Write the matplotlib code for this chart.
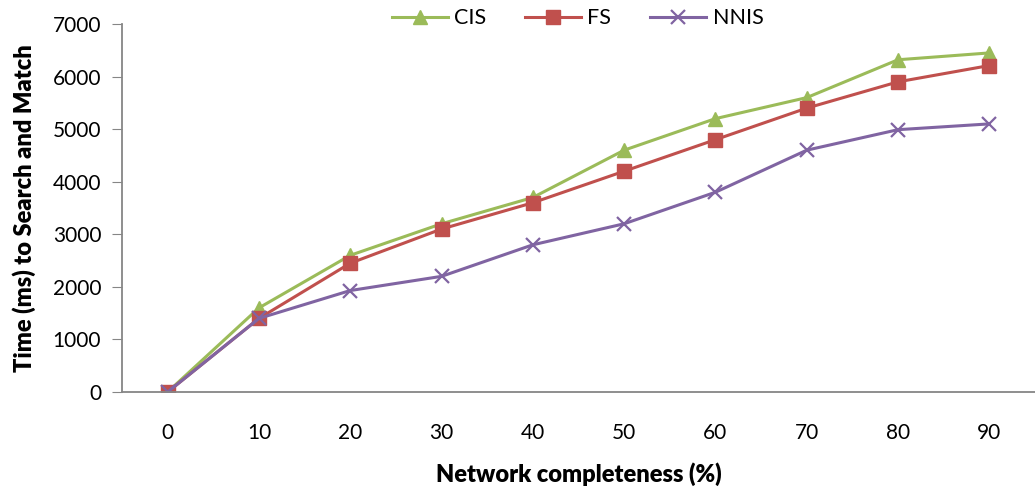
import matplotlib
matplotlib.use("Agg")
import matplotlib.pyplot as plt

plt.rcParams['font.family'] = ['Lato', 'DejaVu Sans']

completeness = [0, 10, 20, 30, 40, 50, 60, 70, 80, 90]
cis = [0, 1600, 2600, 3200, 3700, 4600, 5200, 5600, 6320, 6450]
fs = [0, 1400, 2450, 3100, 3600, 4200, 4800, 5400, 5900, 6210]
nnis = [0, 1400, 1930, 2200, 2800, 3200, 3800, 4600, 4990, 5100]
y_ticks = [0, 1000, 2000, 3000, 4000, 5000, 6000, 7000]

fig = plt.figure(figsize=(10.35, 4.96), dpi=100)
ax = fig.add_axes([122 / 1035, 104 / 496, 1 - 122 / 1035, 368 / 496])

pos = list(range(len(completeness)))
ax.plot(pos, cis, color='#9BBB59', lw=2.2, marker='^', ms=10, label='CIS')
ax.plot(pos, fs, color='#C0504D', lw=2.2, marker='s', ms=10, label='FS')
ax.plot(pos, nnis, color='#8064A2', lw=2.2, marker='x', ms=10, mew=1.6, label='NNIS')

ax.set_xlim(-0.5, len(pos) - 0.5)
ax.set_ylim(0, 7000)
ax.set_xticks(pos)
ax.set_xticklabels([str(c) for c in completeness])
ax.set_yticks(y_ticks)
ax.tick_params(axis='x', length=0, labelsize=15, pad=22)
ax.tick_params(axis='y', length=7, color='#868686', labelsize=15, pad=8)

for s in ['top', 'right']:
    ax.spines[s].set_visible(False)
for s in ['left', 'bottom']:
    ax.spines[s].set_color('#868686')
    ax.spines[s].set_linewidth(1.3)

ax.set_xlabel('Network completeness (%)', fontsize=17, fontweight='heavy', labelpad=14)
ax.set_ylabel('Time (ms) to Search and Match', fontsize=17, fontweight='heavy', labelpad=12)

leg = fig.legend(loc='upper center', bbox_to_anchor=(0.558, 1.022), ncol=3, frameon=False,
                 fontsize=15.5, handlelength=2.6, columnspacing=1.8, handletextpad=0.3)

fig.savefig('out.png', dpi=100)
